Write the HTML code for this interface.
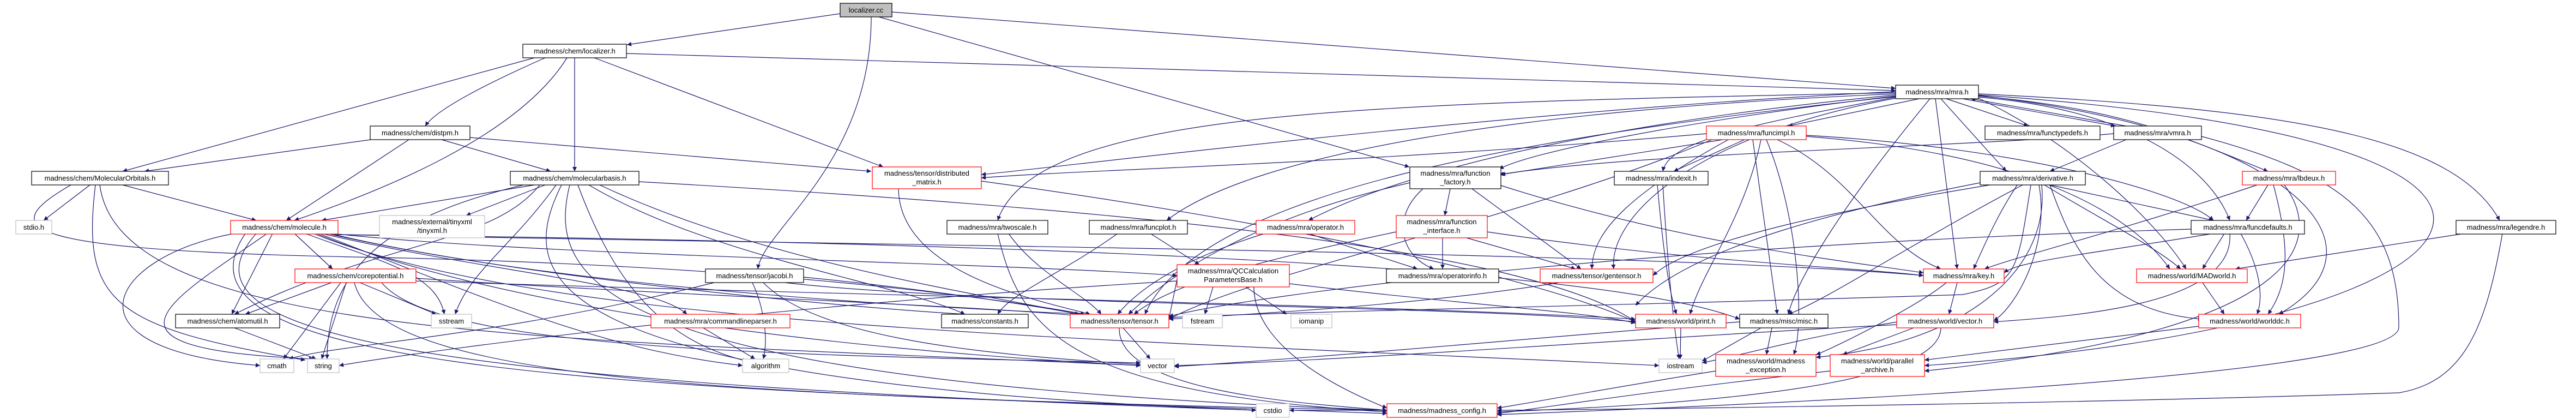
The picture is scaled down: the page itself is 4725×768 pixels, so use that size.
<!DOCTYPE html>
<html><head><meta charset="utf-8">
<style>
html,body{margin:0;padding:0;background:#fff;}
svg{display:block;}
text{font-family:"Liberation Sans","DejaVu Sans",sans-serif;font-size:13px;fill:#000;}
.e{fill:none;stroke:#191970;stroke-width:1.2;marker-end:url(#a);}
.b{fill:#fff;stroke:#000;stroke-width:1.2;}
.r{fill:#fff;stroke:#ff0000;stroke-width:1.2;}
.g{fill:#fff;stroke:#bfbfbf;stroke-width:1.2;}
</style></head><body>
<svg width="4725" height="768" viewBox="0 0 4725 768" xmlns="http://www.w3.org/2000/svg">
<defs><marker id="a" viewBox="0 0 10 10" refX="10" refY="5" markerWidth="10" markerHeight="8" markerUnits="userSpaceOnUse" orient="auto"><path d="M0,0 L10,5 L0,10 z" fill="#191970"/></marker></defs>
<g>
<path class="e" d="M1541 25 L1150 82"/>
<path class="e" d="M1598 31 C1598 300 1400 420 1390 493"/>
<path class="e" d="M1612 31 L2585 306"/>
<path class="e" d="M1636 22 L3477 162"/>
<path class="e" d="M1149 98 L3477 166"/>
<path class="e" d="M1000 106 C900 150 800 200 780 231"/>
<path class="e" d="M980 106 L225 314"/>
<path class="e" d="M1040 106 C950 250 700 350 540 404"/>
<path class="e" d="M1054 106 L1054 314"/>
<path class="e" d="M1090 106 L1620 306"/>
<path class="e" d="M680 256 L265 314"/>
<path class="e" d="M750 256 L525 404"/>
<path class="e" d="M810 256 L1010 314"/>
<path class="e" d="M862 252 L1598 314"/>
<path class="e" d="M130 339 C-10 420 20 460 700 472 C1500 490 1900 560 1990 576"/>
<path class="e" d="M165 339 L80 404"/>
<path class="e" d="M225 339 L470 404"/>
<path class="e" d="M175 339 C150 550 200 600 560 660"/>
<path class="e" d="M183 339 C220 620 1000 620 2092 670"/>
<path class="e" d="M980 339 L590 404"/>
<path class="e" d="M1000 339 L855 395"/>
<path class="e" d="M1020 339 C940 450 860 500 835 576"/>
<path class="e" d="M990 339 C900 450 700 440 430 576"/>
<path class="e" d="M1060 339 C1120 500 1200 620 1370 662"/>
<path class="e" d="M1100 339 C1400 480 1800 540 1980 576"/>
<path class="e" d="M1080 339 C1300 470 1650 520 1770 576"/>
<path class="e" d="M1172 333 C2000 380 2800 450 3000 590"/>
<path class="e" d="M1030 339 C950 500 950 700 2304 752"/>
<path class="e" d="M1045 339 C1000 520 1100 700 2544 752"/>
<path class="e" d="M960 339 C700 400 600 500 600 658"/>
<path class="e" d="M430 428 C200 470 100 640 477 670"/>
<path class="e" d="M500 428 L425 576"/>
<path class="e" d="M540 428 L610 493"/>
<path class="e" d="M490 428 C300 560 150 640 575 658"/>
<path class="e" d="M560 428 C700 480 800 500 815 576"/>
<path class="e" d="M590 428 C900 500 1200 520 1260 576"/>
<path class="e" d="M600 428 C1000 520 1600 560 2000 576"/>
<path class="e" d="M605 428 C900 500 1500 560 1770 576"/>
<path class="e" d="M610 428 C1000 470 1800 480 2159 505"/>
<path class="e" d="M620 430 C1600 450 3000 460 3528 505"/>
<path class="e" d="M615 430 C1500 440 2900 470 3191 585"/>
<path class="e" d="M580 428 C900 560 1500 640 2092 670"/>
<path class="e" d="M575 428 C1000 600 2000 620 3043 670"/>
<path class="e" d="M470 428 C300 620 800 700 2304 752"/>
<path class="e" d="M450 428 C300 650 900 720 2544 752"/>
<path class="e" d="M585 428 C900 550 1100 640 1362 670"/>
<path class="e" d="M608 518 L450 576"/>
<path class="e" d="M625 518 L520 658"/>
<path class="e" d="M635 518 L590 658"/>
<path class="e" d="M660 518 L800 576"/>
<path class="e" d="M763 510 C1200 540 1800 560 1990 580"/>
<path class="e" d="M700 518 C800 640 1400 650 2092 665"/>
<path class="e" d="M650 518 C700 720 1500 720 2544 758"/>
<path class="e" d="M760 515 C1500 540 2600 560 3000 585"/>
<path class="e" d="M1310 518 C900 620 620 630 530 658"/>
<path class="e" d="M1380 518 C1400 560 1410 620 1400 658"/>
<path class="e" d="M1474 508 C1700 530 1900 560 1990 578"/>
<path class="e" d="M1440 518 C1800 560 2700 560 3000 590"/>
<path class="e" d="M1400 518 C1500 620 1800 650 2092 668"/>
<path class="e" d="M1290 601 L1385 658"/>
<path class="e" d="M430 601 L580 658"/>
<path class="e" d="M1648 346 C1650 500 1900 550 2000 576"/>
<path class="e" d="M1800 332 C2300 400 2800 500 3000 590"/>
<path class="e" d="M3477 170 C2500 190 1900 200 1830 404"/>
<path class="e" d="M3477 172 C2800 200 2300 280 2140 404"/>
<path class="e" d="M3477 174 C3000 220 2600 300 2400 404"/>
<path class="e" d="M3477 176 C3100 220 2800 280 2750 310"/>
<path class="e" d="M3477 168 C2800 200 2000 300 1800 320"/>
<path class="e" d="M3520 181 L3280 231"/>
<path class="e" d="M3570 181 L3720 231"/>
<path class="e" d="M3600 181 L3880 231"/>
<path class="e" d="M3900 231 L3615 181"/>
<path class="e" d="M3560 181 L3680 314"/>
<path class="e" d="M3629 176 C3900 200 4000 250 4160 314"/>
<path class="e" d="M3629 178 C3900 200 4050 300 4090 404"/>
<path class="e" d="M3629 172 C4200 200 4500 250 4585 404"/>
<path class="e" d="M3550 181 L3590 493"/>
<path class="e" d="M3540 181 C3400 350 3300 500 3280 576"/>
<path class="e" d="M3629 180 C3800 260 3950 400 4010 493"/>
<path class="e" d="M3629 175 C4200 240 4400 450 4180 576"/>
<path class="e" d="M3629 174 C4900 260 4600 600 3530 670"/>
<path class="e" d="M3477 178 C3200 230 3060 260 3050 314"/>
<path class="e" d="M3477 180 C3100 250 2950 400 2960 493"/>
<path class="e" d="M3477 177 C2800 250 2200 350 2100 576"/>
<path class="e" d="M3160 256 L2753 320"/>
<path class="e" d="M3130 245 C2500 300 2000 310 1800 326"/>
<path class="e" d="M3200 256 L3070 314"/>
<path class="e" d="M3170 256 C3000 350 2920 420 2920 493"/>
<path class="e" d="M3260 256 C3400 320 3450 450 3560 493"/>
<path class="e" d="M3313 250 C3700 280 3900 380 3980 493"/>
<path class="e" d="M3313 248 C3700 270 4000 350 4060 404"/>
<path class="e" d="M3230 256 C3200 400 3120 500 3100 576"/>
<path class="e" d="M3215 256 L3260 576"/>
<path class="e" d="M3240 256 C3300 400 3310 600 3290 650"/>
<path class="e" d="M3140 256 C2800 400 2300 500 2144 585"/>
<path class="e" d="M2660 346 L2650 395"/>
<path class="e" d="M2610 346 C2550 400 2570 470 2630 493"/>
<path class="e" d="M2700 346 L2900 493"/>
<path class="e" d="M2586 335 C2300 400 2150 500 2070 576"/>
<path class="e" d="M2753 340 C3100 450 3400 480 3528 500"/>
<path class="e" d="M2646 436 L2646 493"/>
<path class="e" d="M2690 436 L2890 493"/>
<path class="e" d="M2561 425 C2300 480 2150 520 2080 576"/>
<path class="e" d="M2728 425 C3100 480 3400 490 3528 505"/>
<path class="e" d="M2320 428 C2150 480 2080 540 2050 576"/>
<path class="e" d="M2400 428 L2600 493"/>
<path class="e" d="M2050 428 C1950 500 1850 540 1830 576"/>
<path class="e" d="M2110 428 L2200 485"/>
<path class="e" d="M1850 428 C1900 500 1990 540 2020 576"/>
<path class="e" d="M1830 428 C1870 600 1950 720 2544 755"/>
<path class="e" d="M2225 526 L2210 576"/>
<path class="e" d="M2285 526 L2360 576"/>
<path class="e" d="M2159 512 L2144 585"/>
<path class="e" d="M2365 520 C2700 560 2900 570 3000 592"/>
<path class="e" d="M2300 526 C2300 650 2500 730 2544 748"/>
<path class="e" d="M2159 515 C1400 560 800 640 622 670"/>
<path class="e" d="M2060 601 L2110 658"/>
<path class="e" d="M2053 601 C2050 720 2400 740 2544 752"/>
<path class="e" d="M2860 518 C2600 560 2300 575 2144 585"/>
<path class="e" d="M3040 339 C3050 450 3060 530 3075 576"/>
<path class="e" d="M3050 339 C3060 500 3070 600 3080 658"/>
<path class="e" d="M3083 601 L3082 658"/>
<path class="e" d="M3632 335 C3400 380 3100 450 3000 560"/>
<path class="e" d="M3700 339 C3660 400 3640 450 3620 493"/>
<path class="e" d="M3750 339 C3850 400 3950 450 4000 493"/>
<path class="e" d="M3760 339 L4060 404"/>
<path class="e" d="M3760 339 C3800 450 3850 570 4040 585"/>
<path class="e" d="M3710 339 C3500 450 3350 550 3280 576"/>
<path class="e" d="M3725 339 C3700 500 3700 520 3600 540 C3000 560 2400 570 2144 582"/>
<path class="e" d="M3740 339 C3760 450 3700 560 3657 588"/>
<path class="e" d="M3745 339 C3760 500 3600 630 3331 655"/>
<path class="e" d="M3650 339 C3400 380 3100 440 3032 505"/>
<path class="e" d="M4140 339 C3900 420 3700 470 3640 493"/>
<path class="e" d="M4160 339 L4120 404"/>
<path class="e" d="M4170 339 C4200 450 4200 520 4160 576"/>
<path class="e" d="M4190 339 C4250 420 4280 600 3530 680"/>
<path class="e" d="M4060 428 C3800 470 3700 480 3676 500"/>
<path class="e" d="M4080 428 L4040 493"/>
<path class="e" d="M4110 428 C4150 500 4150 550 4140 576"/>
<path class="e" d="M4090 428 C4100 560 3800 580 3657 590"/>
<path class="e" d="M4020 420 C3000 450 2300 540 2144 580"/>
<path class="e" d="M4520 428 L4100 493"/>
<path class="e" d="M4590 428 C4560 600 4520 700 4400 720 C3800 740 3000 750 2746 752"/>
<path class="e" d="M3570 518 C3520 560 3360 640 3331 650"/>
<path class="e" d="M3590 518 L3575 576"/>
<path class="e" d="M4040 518 L4080 576"/>
<path class="e" d="M3480 595 C3000 620 2500 660 2154 670"/>
<path class="e" d="M3480 590 C3300 620 3200 650 3122 665"/>
<path class="e" d="M3510 601 L3380 650"/>
<path class="e" d="M3560 601 C3560 720 3000 745 2746 755"/>
<path class="e" d="M3250 601 L3240 650"/>
<path class="e" d="M3230 601 L3122 662"/>
<path class="e" d="M3191 590 C2800 620 2500 650 2154 672"/>
<path class="e" d="M4033 598 L3530 660"/>
<path class="e" d="M3147 680 C2900 720 2800 740 2746 748"/>
<path class="e" d="M3357 680 C3000 720 2850 745 2746 758"/>
<path class="e" d="M3877 245 C3600 270 3000 280 2750 320"/>
<path class="e" d="M3900 256 L3760 314"/>
<path class="e" d="M4038 250 C4300 320 4400 400 4400 600 C4400 700 3000 750 2746 760"/>
<path class="e" d="M2544 752 L2365 752"/>
</g>
<g>
<rect x="1541" y="6" width="95" height="25" fill="#bfbfbf" stroke="#000" stroke-width="1.2"/><text x="1588.5" y="23" text-anchor="middle">localizer.cc</text>
<rect class="b" x="959" y="81" width="190" height="25"/><text x="1054" y="98" text-anchor="middle">madness/chem/localizer.h</text>
<rect class="b" x="679" y="231" width="183" height="25"/><text x="770.5" y="248" text-anchor="middle">madness/chem/distpm.h</text>
<rect class="b" x="58" y="314" width="251" height="25"/><text x="183.5" y="331" text-anchor="middle">madness/chem/MolecularOrbitals.h</text>
<rect class="b" x="936" y="314" width="236" height="25"/><text x="1054" y="331" text-anchor="middle">madness/chem/molecularbasis.h</text>
<rect class="r" x="423" y="404" width="197" height="25"/><text x="521.5" y="421" text-anchor="middle">madness/chem/molecule.h</text>
<rect class="g" x="29" y="404" width="66" height="25"/><text x="62" y="421" text-anchor="middle">stdio.h</text>
<rect class="g" x="696" y="395" width="193" height="41"/><text x="792.5" y="411" text-anchor="middle">madness/external/tinyxml</text><text x="792.5" y="427" text-anchor="middle">/tinyxml.h</text>
<rect class="r" x="541" y="493" width="222" height="25"/><text x="652" y="510" text-anchor="middle">madness/chem/corepotential.h</text>
<rect class="b" x="1294" y="493" width="180" height="25"/><text x="1384" y="510" text-anchor="middle">madness/tensor/jacobi.h</text>
<rect class="b" x="322" y="576" width="191" height="25"/><text x="417.5" y="593" text-anchor="middle">madness/chem/atomutil.h</text>
<rect class="g" x="791" y="576" width="74" height="25"/><text x="828" y="593" text-anchor="middle">sstream</text>
<rect class="r" x="1194" y="576" width="255" height="25"/><text x="1321.5" y="593" text-anchor="middle">madness/mra/commandlineparser.h</text>
<rect class="g" x="477" y="658" width="62" height="25"/><text x="508" y="675" text-anchor="middle">cmath</text>
<rect class="g" x="564" y="658" width="58" height="25"/><text x="593" y="675" text-anchor="middle">string</text>
<rect class="g" x="1362" y="658" width="85" height="25"/><text x="1404.5" y="675" text-anchor="middle">algorithm</text>
<rect class="r" x="1600" y="306" width="200" height="40"/><text x="1700" y="322" text-anchor="middle">madness/tensor/distributed</text><text x="1700" y="338" text-anchor="middle">_matrix.h</text>
<rect class="b" x="2586" y="306" width="167" height="40"/><text x="2669.5" y="322" text-anchor="middle">madness/mra/function</text><text x="2669.5" y="338" text-anchor="middle">_factory.h</text>
<rect class="b" x="2961" y="314" width="172" height="25"/><text x="3047" y="331" text-anchor="middle">madness/mra/indexit.h</text>
<rect class="b" x="1737" y="404" width="185" height="25"/><text x="1829.5" y="421" text-anchor="middle">madness/mra/twoscale.h</text>
<rect class="b" x="1998" y="404" width="180" height="25"/><text x="2088" y="421" text-anchor="middle">madness/mra/funcplot.h</text>
<rect class="r" x="2304" y="404" width="181" height="25"/><text x="2394.5" y="421" text-anchor="middle">madness/mra/operator.h</text>
<rect class="r" x="2561" y="395" width="167" height="41"/><text x="2644.5" y="411" text-anchor="middle">madness/mra/function</text><text x="2644.5" y="427" text-anchor="middle">_interface.h</text>
<rect class="r" x="2159" y="485" width="206" height="41"/><text x="2262" y="501" text-anchor="middle">madness/mra/QCCalculation</text><text x="2262" y="517" text-anchor="middle">ParametersBase.h</text>
<rect class="b" x="2543" y="493" width="206" height="25"/><text x="2646" y="510" text-anchor="middle">madness/mra/operatorinfo.h</text>
<rect class="r" x="2825" y="493" width="207" height="25"/><text x="2928.5" y="510" text-anchor="middle">madness/tensor/gentensor.h</text>
<rect class="b" x="1727" y="576" width="159" height="25"/><text x="1806.5" y="593" text-anchor="middle">madness/constants.h</text>
<rect class="r" x="1963" y="576" width="181" height="25"/><text x="2053.5" y="593" text-anchor="middle">madness/tensor/tensor.h</text>
<rect class="g" x="2169" y="576" width="73" height="25"/><text x="2205.5" y="593" text-anchor="middle">fstream</text>
<rect class="g" x="2368" y="576" width="75" height="25"/><text x="2405.5" y="593" text-anchor="middle">iomanip</text>
<rect class="r" x="3000" y="576" width="166" height="25"/><text x="3083" y="593" text-anchor="middle">madness/world/print.h</text>
<rect class="g" x="2092" y="658" width="62" height="25"/><text x="2123" y="675" text-anchor="middle">vector</text>
<rect class="g" x="3043" y="658" width="79" height="25"/><text x="3082.5" y="675" text-anchor="middle">iostream</text>
<rect class="g" x="2304" y="740" width="61" height="25"/><text x="2334.5" y="757" text-anchor="middle">cstdio</text>
<rect class="r" x="2544" y="740" width="202" height="25"/><text x="2645" y="757" text-anchor="middle">madness/madness_config.h</text>
<rect class="b" x="3477" y="156" width="152" height="25"/><text x="3553" y="173" text-anchor="middle">madness/mra/mra.h</text>
<rect class="r" x="3130" y="231" width="183" height="25"/><text x="3221.5" y="248" text-anchor="middle">madness/mra/funcimpl.h</text>
<rect class="b" x="3641" y="231" width="211" height="25"/><text x="3746.5" y="248" text-anchor="middle">madness/mra/functypedefs.h</text>
<rect class="b" x="3877" y="231" width="161" height="25"/><text x="3957.5" y="248" text-anchor="middle">madness/mra/vmra.h</text>
<rect class="b" x="3632" y="314" width="193" height="25"/><text x="3728.5" y="331" text-anchor="middle">madness/mra/derivative.h</text>
<rect class="r" x="4113" y="314" width="171" height="25"/><text x="4198.5" y="331" text-anchor="middle">madness/mra/lbdeux.h</text>
<rect class="b" x="4019" y="404" width="208" height="25"/><text x="4123" y="421" text-anchor="middle">madness/mra/funcdefaults.h</text>
<rect class="b" x="4505" y="404" width="183" height="25"/><text x="4596.5" y="421" text-anchor="middle">madness/mra/legendre.h</text>
<rect class="r" x="3528" y="493" width="148" height="25"/><text x="3602" y="510" text-anchor="middle">madness/mra/key.h</text>
<rect class="r" x="3919" y="493" width="203" height="25"/><text x="4020.5" y="510" text-anchor="middle">madness/world/MADworld.h</text>
<rect class="b" x="3191" y="576" width="162" height="25"/><text x="3272" y="593" text-anchor="middle">madness/misc/misc.h</text>
<rect class="r" x="3479" y="576" width="178" height="25"/><text x="3568" y="593" text-anchor="middle">madness/world/vector.h</text>
<rect class="r" x="4033" y="576" width="187" height="25"/><text x="4126.5" y="593" text-anchor="middle">madness/world/worlddc.h</text>
<rect class="r" x="3147" y="650" width="184" height="40"/><text x="3239" y="666" text-anchor="middle">madness/world/madness</text><text x="3239" y="682" text-anchor="middle">_exception.h</text>
<rect class="r" x="3357" y="650" width="173" height="40"/><text x="3443.5" y="666" text-anchor="middle">madness/world/parallel</text><text x="3443.5" y="682" text-anchor="middle">_archive.h</text>
</g>
</svg>
</body></html>
